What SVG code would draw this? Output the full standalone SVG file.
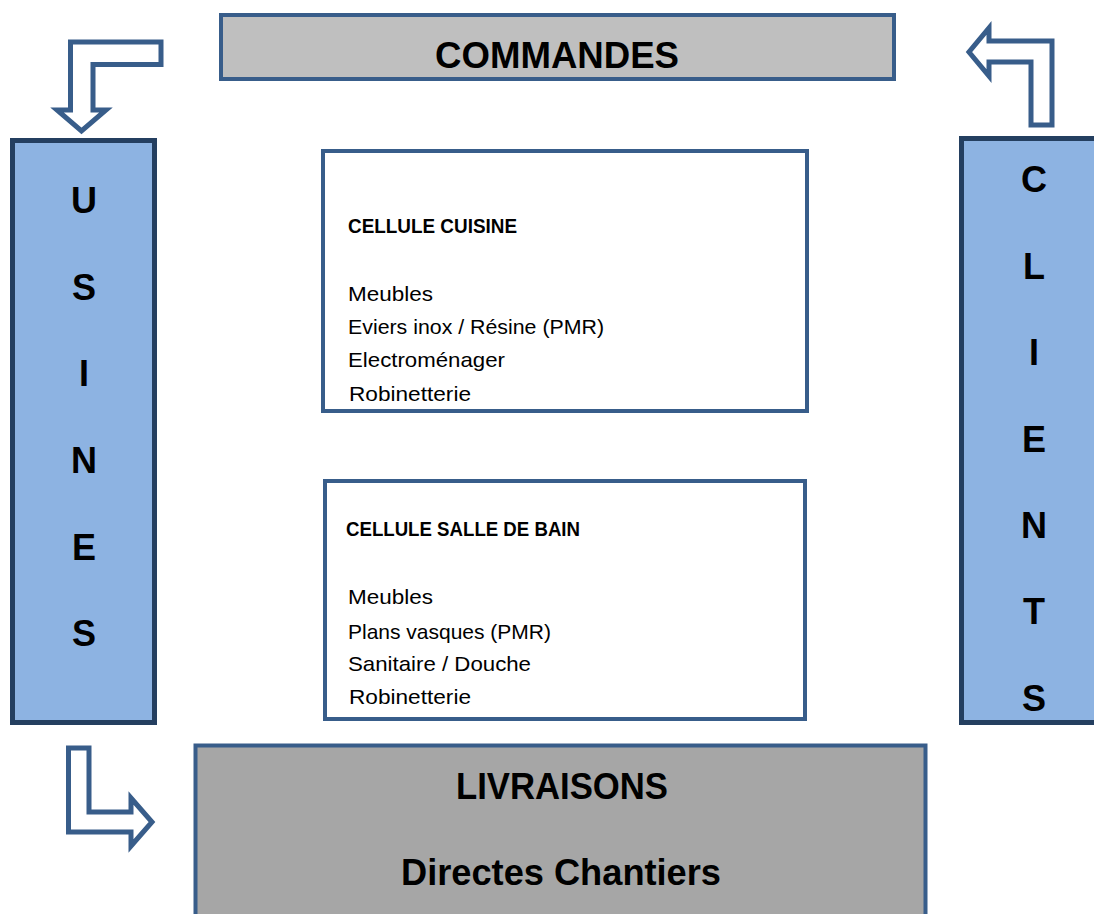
<svg xmlns="http://www.w3.org/2000/svg" width="1094" height="914" viewBox="0 0 1094 914">
<style>
.blue{stroke:#385D8A;stroke-width:4}
.side{fill:#8DB3E2;stroke:#243F60;stroke-width:5}
.cell{fill:#FFFFFF;stroke:#385D8A;stroke-width:4}
.arrow{fill:#FFFFFF;stroke:#385D8A;stroke-width:5;stroke-linejoin:miter}
.big{font-family:"Liberation Sans",Arial,sans-serif;font-weight:bold;font-size:36px;fill:#000}
.letter{font-family:"Liberation Sans",Arial,sans-serif;font-weight:bold;font-size:36px;fill:#000;text-anchor:middle}
.t{font-family:"Liberation Sans",Arial,sans-serif;font-size:21px;fill:#000}
.tb{font-family:"Liberation Sans",Arial,sans-serif;font-size:20px;font-weight:bold;fill:#000}
</style>
<rect width="1094" height="914" fill="#FFFFFF"/>
<g id="connectors">
<path class="arrow" d="M70.5,42 L161,42 L161,64.5 L93,64.5 L93,110 L106,110 L81.5,131 L57,110 L70.5,110 Z"/>
<path class="arrow" d="M1052,125 L1052,41 L989,41 L989,28 L969,52 L989,76 L989,62 L1031,62 L1031,125 Z"/>
<path class="arrow" d="M68.5,748 L89,748 L89,812 L131,812 L131,798 L152,822 L131,846 L131,832 L68.5,832 Z"/>
</g>
<g id="commandes">
<rect x="221" y="15" width="673" height="64" fill="#BFBFBF" class="blue"/>
<text class="big" x="557" y="68" text-anchor="middle" textLength="244" lengthAdjust="spacingAndGlyphs">COMMANDES</text>
</g>
<g id="usines">
<rect class="side" x="12.5" y="140.5" width="142" height="582"/>
<text class="letter" x="84" y="213">U</text>
<text class="letter" x="84" y="300">S</text>
<text class="letter" x="84" y="386">I</text>
<text class="letter" x="84" y="473">N</text>
<text class="letter" x="84" y="560">E</text>
<text class="letter" x="84" y="646">S</text>
</g>
<g id="clients">
<rect class="side" x="961.5" y="138.5" width="145" height="584"/>
<text class="letter" x="1034" y="192">C</text>
<text class="letter" x="1034" y="279">L</text>
<text class="letter" x="1034" y="365">I</text>
<text class="letter" x="1034" y="452">E</text>
<text class="letter" x="1034" y="538">N</text>
<text class="letter" x="1034" y="624">T</text>
<text class="letter" x="1034" y="711">S</text>
</g>
<g id="cuisine">
<rect class="cell" x="323" y="151" width="484" height="260"/>
<text class="tb" x="348" y="233" textLength="169" lengthAdjust="spacingAndGlyphs">CELLULE CUISINE</text>
<text class="t" x="348" y="301" textLength="85" lengthAdjust="spacingAndGlyphs">Meubles</text>
<text class="t" x="348" y="334" textLength="256" lengthAdjust="spacingAndGlyphs">Eviers inox / Résine (PMR)</text>
<text class="t" x="348" y="367" textLength="157" lengthAdjust="spacingAndGlyphs">Electroménager</text>
<text class="t" x="349" y="401" textLength="122" lengthAdjust="spacingAndGlyphs">Robinetterie</text>
</g>
<g id="salle-de-bain">
<rect class="cell" x="325" y="481" width="480" height="238"/>
<text class="tb" x="346" y="536" textLength="234" lengthAdjust="spacingAndGlyphs">CELLULE SALLE DE BAIN</text>
<text class="t" x="348" y="604" textLength="85" lengthAdjust="spacingAndGlyphs">Meubles</text>
<text class="t" x="348" y="639" textLength="203" lengthAdjust="spacingAndGlyphs">Plans vasques (PMR)</text>
<text class="t" x="348" y="671" textLength="183" lengthAdjust="spacingAndGlyphs">Sanitaire / Douche</text>
<text class="t" x="349" y="704" textLength="122" lengthAdjust="spacingAndGlyphs">Robinetterie</text>
</g>
<g id="livraisons">
<rect x="195.5" y="745.5" width="730" height="200" fill="#A6A6A6" class="blue"/>
<text class="big" x="562" y="799" text-anchor="middle" textLength="212" lengthAdjust="spacingAndGlyphs">LIVRAISONS</text>
<text class="big" x="561" y="885" text-anchor="middle" textLength="320" lengthAdjust="spacingAndGlyphs">Directes Chantiers</text>
</g>
</svg>
